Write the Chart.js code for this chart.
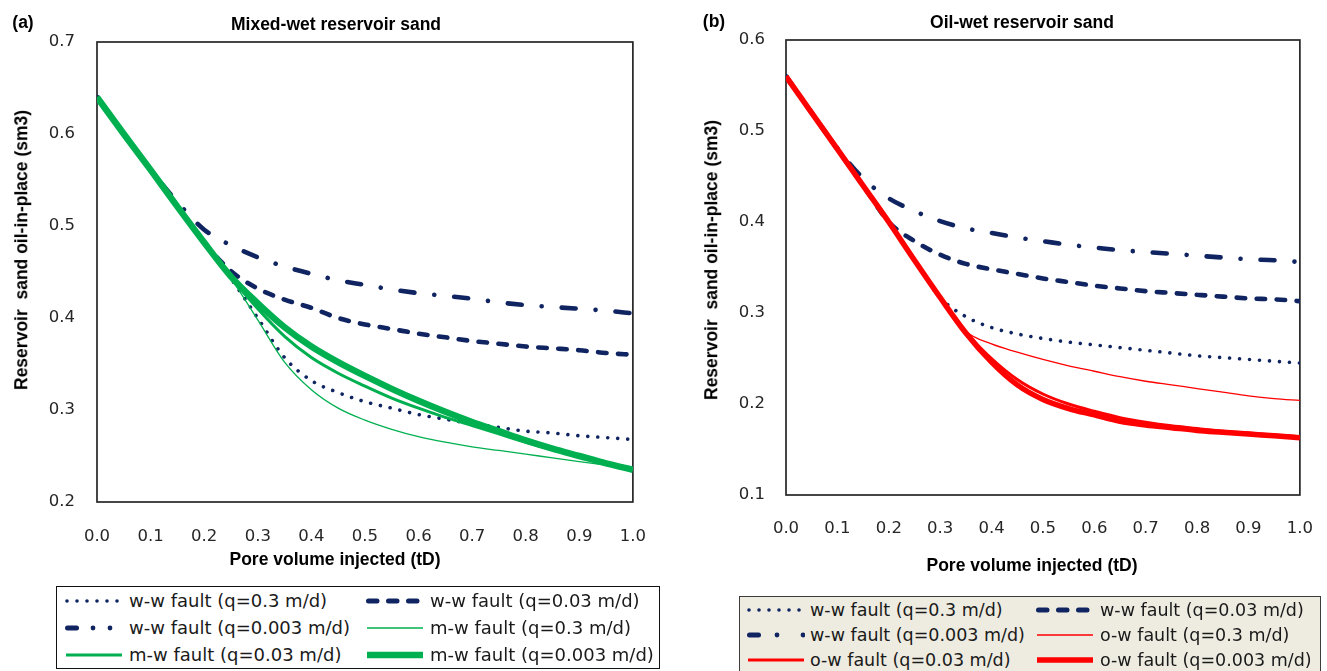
<!DOCTYPE html>
<html>
<head>
<meta charset="utf-8">
<script src="https://cdn.jsdelivr.net/npm/chart.js@4.4.1/dist/chart.umd.min.js"></script>
<style>
  html, body { margin: 0; padding: 0; background: #fff; }
  body { width: 1327px; height: 671px; position: relative; overflow: hidden;
         font-family: "Liberation Sans", Arial, sans-serif; }
  canvas.plot { position: absolute; top: 0; }
  .lbl { position: absolute; font-weight: bold; color: #000; white-space: pre;
         font-size: 17.5px; line-height: 1; transform: translate(-50%, -50%); }
  .lbl.rot { transform: translate(-50%, -50%) rotate(-90deg); }
  .lgbox { position: absolute; box-sizing: border-box; }
  .lgtext { position: absolute; font-family: "DejaVu Sans", sans-serif; color: #1a1a1a;
            white-space: nowrap; height: 24px; line-height: 24px; }
  .lgsample { position: absolute; }
</style>
</head>
<body>
<canvas id="mixed" class="plot" width="671" height="580" style="left:0;width:671px;height:580px"></canvas>
<canvas id="oilwet" class="plot" width="657" height="590" style="left:680px;width:657px;height:590px"></canvas>

<div class="lbl" style="left:23px;top:23px">(a)</div>
<div class="lbl" style="left:336px;top:25px">Mixed-wet reservoir sand</div>
<div class="lbl rot" style="left:22px;top:250px">Reservoir  sand oil-in-place (sm3)</div>
<div class="lbl" style="left:335px;top:560px">Pore volume injected (tD)</div>

<div class="lbl" style="left:714px;top:22px">(b)</div>
<div class="lbl" style="left:1022px;top:23px">Oil-wet reservoir sand</div>
<div class="lbl rot" style="left:712px;top:260px">Reservoir  sand oil-in-place (sm3)</div>
<div class="lbl" style="left:1032px;top:566px">Pore volume injected (tD)</div>

<div class="lgbox" style="left:56px;top:586px;width:604px;height:83px;border:1.6px solid #111;background:#fff"></div>
<div class="lgbox" style="left:739px;top:596px;width:582px;height:90px;border:1.6px solid #3c3c3c;background:#eeece1"></div>

<script>
// Pore volumes injected (tD) at which the recovery curves are sampled
const tD = [0.00, 0.05, 0.10, 0.15, 0.20, 0.25, 0.30, 0.35, 0.40, 0.45, 0.50,
            0.55, 0.60, 0.65, 0.70, 0.75, 0.80, 0.85, 0.90, 0.95, 1.00];

// Axis ranges
const xRange = [0, 1, 0.1];
const mixedYRange = [0.2, 0.7, 0.1];
const oilYRange = [0.1, 0.6, 0.1];

// (a) Mixed-wet reservoir sand: oil-in-place (sm3)
const mixedWW03   = [0.640, 0.600, 0.561, 0.521, 0.482, 0.443, 0.400, 0.357, 0.332, 0.319, 0.309,
                     0.302, 0.295, 0.290, 0.285, 0.281, 0.277, 0.275, 0.272, 0.270, 0.268];
const mixedWW003  = [0.640, 0.600, 0.561, 0.521, 0.482, 0.451, 0.432, 0.420, 0.411, 0.400, 0.393,
                     0.388, 0.383, 0.379, 0.375, 0.372, 0.369, 0.367, 0.365, 0.362, 0.360];
const mixedWW0003 = [0.640, 0.600, 0.561, 0.526, 0.496, 0.479, 0.466, 0.456, 0.448, 0.441, 0.436,
                     0.431, 0.427, 0.424, 0.421, 0.417, 0.414, 0.412, 0.410, 0.408, 0.405];
const mixedMW03   = [0.640, 0.600, 0.561, 0.521, 0.482, 0.443, 0.398, 0.352, 0.322, 0.302, 0.289,
                     0.279, 0.271, 0.265, 0.260, 0.256, 0.252, 0.248, 0.244, 0.240, 0.236];
const mixedMW003  = [0.640, 0.600, 0.561, 0.521, 0.482, 0.444, 0.410, 0.380, 0.357, 0.340, 0.326,
                     0.313, 0.302, 0.292, 0.283, 0.274, 0.265, 0.257, 0.249, 0.242, 0.235];
const mixedMW0003 = [0.640, 0.600, 0.561, 0.521, 0.482, 0.445, 0.416, 0.390, 0.369, 0.352, 0.337,
                     0.323, 0.310, 0.298, 0.287, 0.277, 0.267, 0.258, 0.250, 0.242, 0.235];

// (b) Oil-wet reservoir sand: oil-in-place (sm3)
const oilWW03   = [0.560, 0.520, 0.480, 0.440, 0.400, 0.358, 0.317, 0.296, 0.284, 0.277, 0.272,
                   0.268, 0.265, 0.262, 0.259, 0.256, 0.253, 0.251, 0.249, 0.247, 0.245];
const oilWW003  = [0.560, 0.520, 0.480, 0.440, 0.400, 0.379, 0.364, 0.354, 0.348, 0.343, 0.338,
                   0.334, 0.330, 0.327, 0.324, 0.322, 0.320, 0.318, 0.316, 0.315, 0.313];
const oilWW0003 = [0.560, 0.520, 0.481, 0.448, 0.426, 0.412, 0.401, 0.393, 0.388, 0.383, 0.379,
                   0.375, 0.372, 0.369, 0.367, 0.365, 0.363, 0.361, 0.359, 0.358, 0.356];
const oilOW03   = [0.560, 0.520, 0.480, 0.440, 0.400, 0.358, 0.317, 0.280, 0.266, 0.257, 0.249,
                   0.242, 0.236, 0.230, 0.225, 0.221, 0.217, 0.213, 0.209, 0.206, 0.204];
const oilOW003  = [0.560, 0.520, 0.480, 0.440, 0.400, 0.358, 0.317, 0.279, 0.250, 0.227, 0.211,
                   0.200, 0.192, 0.185, 0.180, 0.176, 0.173, 0.170, 0.168, 0.166, 0.164];
const oilOW0003 = [0.560, 0.520, 0.480, 0.440, 0.400, 0.358, 0.317, 0.278, 0.246, 0.221, 0.205,
                   0.195, 0.188, 0.181, 0.177, 0.174, 0.171, 0.169, 0.167, 0.165, 0.163];

// Series names
const mixedNames = ['w-w fault (q=0.3 m/d)', 'w-w fault (q=0.03 m/d)', 'w-w fault (q=0.003 m/d)',
                    'm-w fault (q=0.3 m/d)', 'm-w fault (q=0.03 m/d)', 'm-w fault (q=0.003 m/d)'];
const oilNames   = ['w-w fault (q=0.3 m/d)', 'w-w fault (q=0.03 m/d)', 'w-w fault (q=0.003 m/d)',
                    'o-w fault (q=0.3 m/d)', 'o-w fault (q=0.03 m/d)', 'o-w fault (q=0.003 m/d)'];

const NAVY = '#0f2460', GREEN = '#00b050', RED = '#ff0000';

// line styles
const lineStyle = {
  dotted:  { color: NAVY, width: 3.6, dash: [0.01, 9.99], cap: 'round' },
  dashed:  { color: NAVY, width: 4.6, dash: [8.5, 11.5], cap: 'round' },
  dashDot: { color: NAVY, width: 4.6, dash: [14, 20, 0.01, 20], cap: 'round' },
};
function solid(color, width) { return { color, width, dash: [], cap: 'butt' }; }

const mixedStyles = [lineStyle.dotted, lineStyle.dashed, lineStyle.dashDot,
                     solid(GREEN, 1.3), solid(GREEN, 3), solid(GREEN, 6.5)];
const oilStyles   = [lineStyle.dotted, lineStyle.dashed, lineStyle.dashDot,
                     solid(RED, 1.3), solid(RED, 3), solid(RED, 5.5)];

// plot frame
const framePlugin = {
  id: 'frame',
  beforeDatasetsDraw(chart) {
    const { ctx, chartArea: a } = chart;
    ctx.save();
    ctx.strokeStyle = '#262626';
    ctx.lineWidth = 1.7;
    ctx.strokeRect(a.left, a.top, a.right - a.left, a.bottom - a.top);
    ctx.restore();
  }
};

function buildChart(id, names, series, styles, yRange, box) {
  const datasets = series.map((vals, i) => ({
    label: names[i],
    data: tD.map((x, k) => ({ x, y: vals[k] })),
    borderColor: styles[i].color,
    borderWidth: styles[i].width,
    borderDash: styles[i].dash,
    borderCapStyle: styles[i].cap,
    borderJoinStyle: 'round',
    pointRadius: 0,
    fill: false,
    cubicInterpolationMode: 'monotone',
    order: series.length - 1 - i
  }));
  const tickFont = { family: 'DejaVu Sans', size: 16.5 };
  return new Chart(document.getElementById(id), {
    type: 'line',
    data: { datasets },
    plugins: [framePlugin],
    options: {
      responsive: false,
      animation: false,
      devicePixelRatio: 1,
      layout: { padding: { left: 0, top: box.top, right: box.right, bottom: 0 } },
      plugins: { legend: { display: false }, tooltip: { enabled: false }, title: { display: false } },
      scales: {
        x: {
          type: 'linear', min: xRange[0], max: xRange[1],
          grid: { display: false, drawTicks: false },
          border: { display: false },
          ticks: { stepSize: xRange[2], autoSkip: false, maxRotation: 0, padding: box.xPad,
                   color: '#262626', font: tickFont, callback: v => Number(v).toFixed(1) },
          afterFit(s) { s.height = box.xH; }
        },
        y: {
          type: 'linear', min: yRange[0], max: yRange[1],
          grid: { display: false, drawTicks: false },
          border: { display: false },
          ticks: { stepSize: yRange[2], padding: box.yPad, color: '#262626', font: tickFont,
                   callback: v => Number(v).toFixed(1) },
          afterFit(s) { s.width = box.yW; }
        }
      }
    }
  });
}

buildChart('mixed', mixedNames,
  [mixedWW03, mixedWW003, mixedWW0003, mixedMW03, mixedMW003, mixedMW0003],
  mixedStyles, mixedYRange,
  { top: 42, right: 16, yW: 97, xH: 78, xPad: 25, yPad: 22 });

buildChart('oilwet', oilNames,
  [oilWW03, oilWW003, oilWW0003, oilOW03, oilOW003, oilOW0003],
  oilStyles, oilYRange,
  { top: 40, right: 14, yW: 106, xH: 95, xPad: 24, yPad: 21 });

// legend line samples
function sampleSvg(style, kind, dots) {
  const W = 58, H = 14, y = 7;
  let inner = '';
  if (kind === 'dotted') {
    inner = `<line x1="2" y1="${y}" x2="56" y2="${y}" stroke="${style.color}" stroke-width="3.6" stroke-linecap="round" stroke-dasharray="0 10"/>`;
  } else if (kind === 'dashed') {
    inner = `<line x1="2.5" y1="${y}" x2="55" y2="${y}" stroke="${style.color}" stroke-width="5" stroke-linecap="round" stroke-dasharray="8.5 11.5"/>`;
  } else if (kind === 'dashDot') {
    inner = `<line x1="2.5" y1="${y}" x2="11.5" y2="${y}" stroke="${style.color}" stroke-width="5" stroke-linecap="round"/>` +
            dots.map(d => `<circle cx="${d}" cy="${y}" r="2.4" fill="${style.color}"/>`).join('');
  } else {
    inner = `<line x1="1" y1="${y}" x2="57" y2="${y}" stroke="${style.color}" stroke-width="${style.width}"/>`;
  }
  return `<svg width="${W}" height="${H}" viewBox="0 0 ${W} ${H}">${inner}</svg>`;
}

const kinds = ['dotted', 'dashed', 'dashDot', 'solid', 'solid', 'solid'];

function buildLegend(names, styles, layout) {
  // two columns, row-major order
  names.forEach((name, i) => {
    const row = Math.floor(i / 2), col = i % 2;
    const cy = layout.rows[row];
    const sx = layout.sampleX[col], tx = layout.textX[col];
    const s = document.createElement('div');
    s.className = 'lgsample';
    s.style.left = sx + 'px';
    s.style.top = (cy - 7) + 'px';
    s.innerHTML = sampleSvg(styles[i], kinds[i], layout.dots);
    document.body.appendChild(s);
    const t = document.createElement('div');
    t.className = 'lgtext';
    t.style.left = tx + 'px';
    t.style.top = (cy - 12) + 'px';
    t.style.fontSize = layout.fontSize + 'px';
    t.textContent = name;
    document.body.appendChild(t);
  });
}

buildLegend(mixedNames, mixedStyles,
  { rows: [601, 628, 655], sampleX: [65, 366], textX: [129, 430], fontSize: 18, dots: [28, 45] });
buildLegend(oilNames, oilStyles,
  { rows: [610, 635, 660], sampleX: [747, 1036], textX: [810, 1100], fontSize: 17.5, dots: [30, 56] });
</script>
</body>
</html>
